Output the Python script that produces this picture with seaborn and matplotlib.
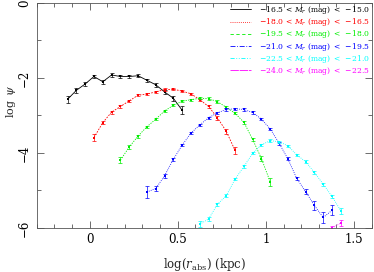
import numpy as np
import pandas as pd
import seaborn as sns
import matplotlib
matplotlib.use("Agg")
import matplotlib.pyplot as plt
from matplotlib.ticker import MultipleLocator
from matplotlib.lines import Line2D

# ---- data ----
x_black = [-0.125, -0.075, -0.025, 0.025, 0.075, 0.125, 0.175, 0.225, 0.275, 0.325, 0.375, 0.425, 0.475, 0.525]
y_black = [-2.57, -2.33, -2.16, -1.96, -2.10, -1.92, -1.96, -1.96, -1.94, -2.06, -2.18, -2.37, -2.54, -2.86]
e_black = [0.10, 0.07, 0.06, 0.05, 0.05, 0.05, 0.04, 0.04, 0.04, 0.04, 0.05, 0.06, 0.07, 0.10]

x_red = [0.025, 0.075, 0.125, 0.175, 0.225, 0.275, 0.325, 0.375, 0.425, 0.475, 0.525, 0.575, 0.625, 0.675, 0.725, 0.775, 0.825]
y_red = [-3.59, -3.19, -2.91, -2.76, -2.61, -2.46, -2.43, -2.37, -2.31, -2.30, -2.35, -2.42, -2.58, -2.76, -3.06, -3.42, -3.93]
e_red = [0.10, 0.05, 0.04, 0.03, 0.03, 0.03, 0.03, 0.03, 0.03, 0.03, 0.03, 0.03, 0.03, 0.04, 0.05, 0.07, 0.10]

x_green = [0.175, 0.225, 0.275, 0.325, 0.375, 0.425, 0.475, 0.525, 0.575, 0.625, 0.675, 0.725, 0.775, 0.825, 0.875, 0.925, 0.975, 1.025]
y_green = [-4.19, -3.84, -3.55, -3.30, -3.10, -2.88, -2.73, -2.62, -2.58, -2.54, -2.55, -2.63, -2.78, -2.94, -3.18, -3.64, -4.15, -4.78]
e_green = [0.08, 0.05, 0.04, 0.03, 0.03, 0.03, 0.03, 0.03, 0.03, 0.03, 0.03, 0.03, 0.03, 0.03, 0.04, 0.05, 0.07, 0.11]

x_blue = [0.325, 0.375, 0.425, 0.475, 0.525, 0.575, 0.625, 0.675, 0.725, 0.775, 0.825, 0.875, 0.925, 0.975, 1.025, 1.075, 1.125, 1.175, 1.225, 1.275, 1.325, 1.375]
y_blue = [-5.04, -4.95, -4.61, -4.17, -3.79, -3.47, -3.25, -3.06, -2.93, -2.84, -2.82, -2.84, -2.92, -3.10, -3.36, -3.74, -4.16, -4.68, -5.03, -5.40, -5.72, -5.53]
e_blue = [0.15, 0.07, 0.05, 0.04, 0.03, 0.03, 0.03, 0.03, 0.03, 0.03, 0.03, 0.03, 0.03, 0.03, 0.03, 0.04, 0.04, 0.05, 0.07, 0.11, 0.15, 0.13]

x_cyan = [0.625, 0.675, 0.725, 0.775, 0.825, 0.875, 0.925, 0.975, 1.025, 1.075, 1.125, 1.175, 1.225, 1.275, 1.325, 1.375, 1.425]
y_cyan = [-5.90, -5.76, -5.37, -5.14, -4.70, -4.36, -4.01, -3.78, -3.67, -3.70, -3.81, -4.05, -4.23, -4.52, -4.83, -5.16, -5.54]
e_cyan = [0.08, 0.06, 0.04, 0.04, 0.03, 0.03, 0.03, 0.03, 0.03, 0.03, 0.03, 0.03, 0.03, 0.04, 0.04, 0.05, 0.08]

x_mag = [1.375, 1.425]
y_mag = [-6.00, -5.87]
e_mag = [0.06, 0.07]

labels = [r"$-16.5\,<\,M_r$ (mag) $<\,-15.0$",
          r"$-18.0\,<\,M_r$ (mag) $<\,-16.5$",
          r"$-19.5\,<\,M_r$ (mag) $<\,-18.0$",
          r"$-21.0\,<\,M_r$ (mag) $<\,-19.5$",
          r"$-22.5\,<\,M_r$ (mag) $<\,-21.0$",
          r"$-24.0\,<\,M_r$ (mag) $<\,-22.5$"]
colors = ["black", "#ff0000", "#00ee00", "#0000ff", "#00ffff", "#ff00ff"]
styles = ["-", (0, (1, 1.5)), (0, (4, 3)), (0, (6, 2, 1, 2)), (0, (5, 2, 1, 2, 1, 2)), (0, (10, 1))]
plot_styles = ["-", (0, (2, 1.5)), (0, (1.5, 1.5)), (0, (1, 1.5)), (0, (1, 1.5)), (0, (1, 1.5))]

series = [(x_black, y_black, e_black), (x_red, y_red, e_red), (x_green, y_green, e_green),
          (x_blue, y_blue, e_blue), (x_cyan, y_cyan, e_cyan), (x_mag, y_mag, e_mag)]

sns.set_theme(style="ticks")
plt.rcParams["font.family"] = ["DejaVu Serif"]
plt.rcParams["mathtext.fontset"] = "dejavuserif"

fig = plt.figure(figsize=(3.74, 2.72), dpi=100)
ax = fig.add_axes([0.098, 0.1618, 0.8959, 0.8272])

for (xs, ys, es), c, ls in zip(series, colors, plot_styles):
    df = pd.DataFrame({"x": xs, "y": ys})
    sns.lineplot(data=df, x="x", y="y", ax=ax, color=c, linestyle=ls, linewidth=0.6,
                 marker="s", markersize=1.7, markeredgewidth=0, sort=False, legend=False)
    ax.errorbar(xs, ys, yerr=es, fmt="none", ecolor=c, elinewidth=0.5, capsize=1.2, capthick=0.5)

ax.set_xlim(-0.3, 1.6)
ax.set_ylim(-6, 0)
ax.xaxis.set_minor_locator(MultipleLocator(0.1))
ax.yaxis.set_minor_locator(MultipleLocator(1))
ax.set_xticks([0, 0.5, 1, 1.5])
ax.set_xticklabels(["0", "0.5", "1", "1.5"])
ax.set_yticks([-6, -4, -2, 0])
ax.set_yticklabels(["\u22126", "\u22124", "\u22122", "0"], rotation=90, va="center")
ax.tick_params(which="both", direction="in", top=True, right=True, colors="#555555",
               labelcolor="black", labelsize=8.5, width=0.6)
ax.tick_params(which="major", length=5)
ax.tick_params(which="minor", length=3)
ax.tick_params(axis="y", pad=4)
for s in ax.spines.values():
    s.set_linewidth(0.6)
    s.set_color("#555555")

ax.set_xlabel(r"$\log(r_{\rm abs})$ (kpc)", fontsize=8.5, labelpad=7)
ax.set_ylabel(r"$\log\ \psi$", fontsize=8)
ax.yaxis.set_label_coords(-0.056, 0.565)

handles = [Line2D([], [], color=c, linestyle=ls, linewidth=0.6) for c, ls in zip(colors, styles)]
leg = ax.legend(handles, labels, loc="upper right", frameon=False, fontsize=5.5,
                handlelength=2.7, handletextpad=1.0, labelspacing=0.02,
                borderaxespad=0.0, borderpad=0.0, bbox_to_anchor=(0.995, 0.995))
for t, c in zip(leg.get_texts(), colors):
    t.set_color(c)

fig.savefig("out.png", dpi=100)
